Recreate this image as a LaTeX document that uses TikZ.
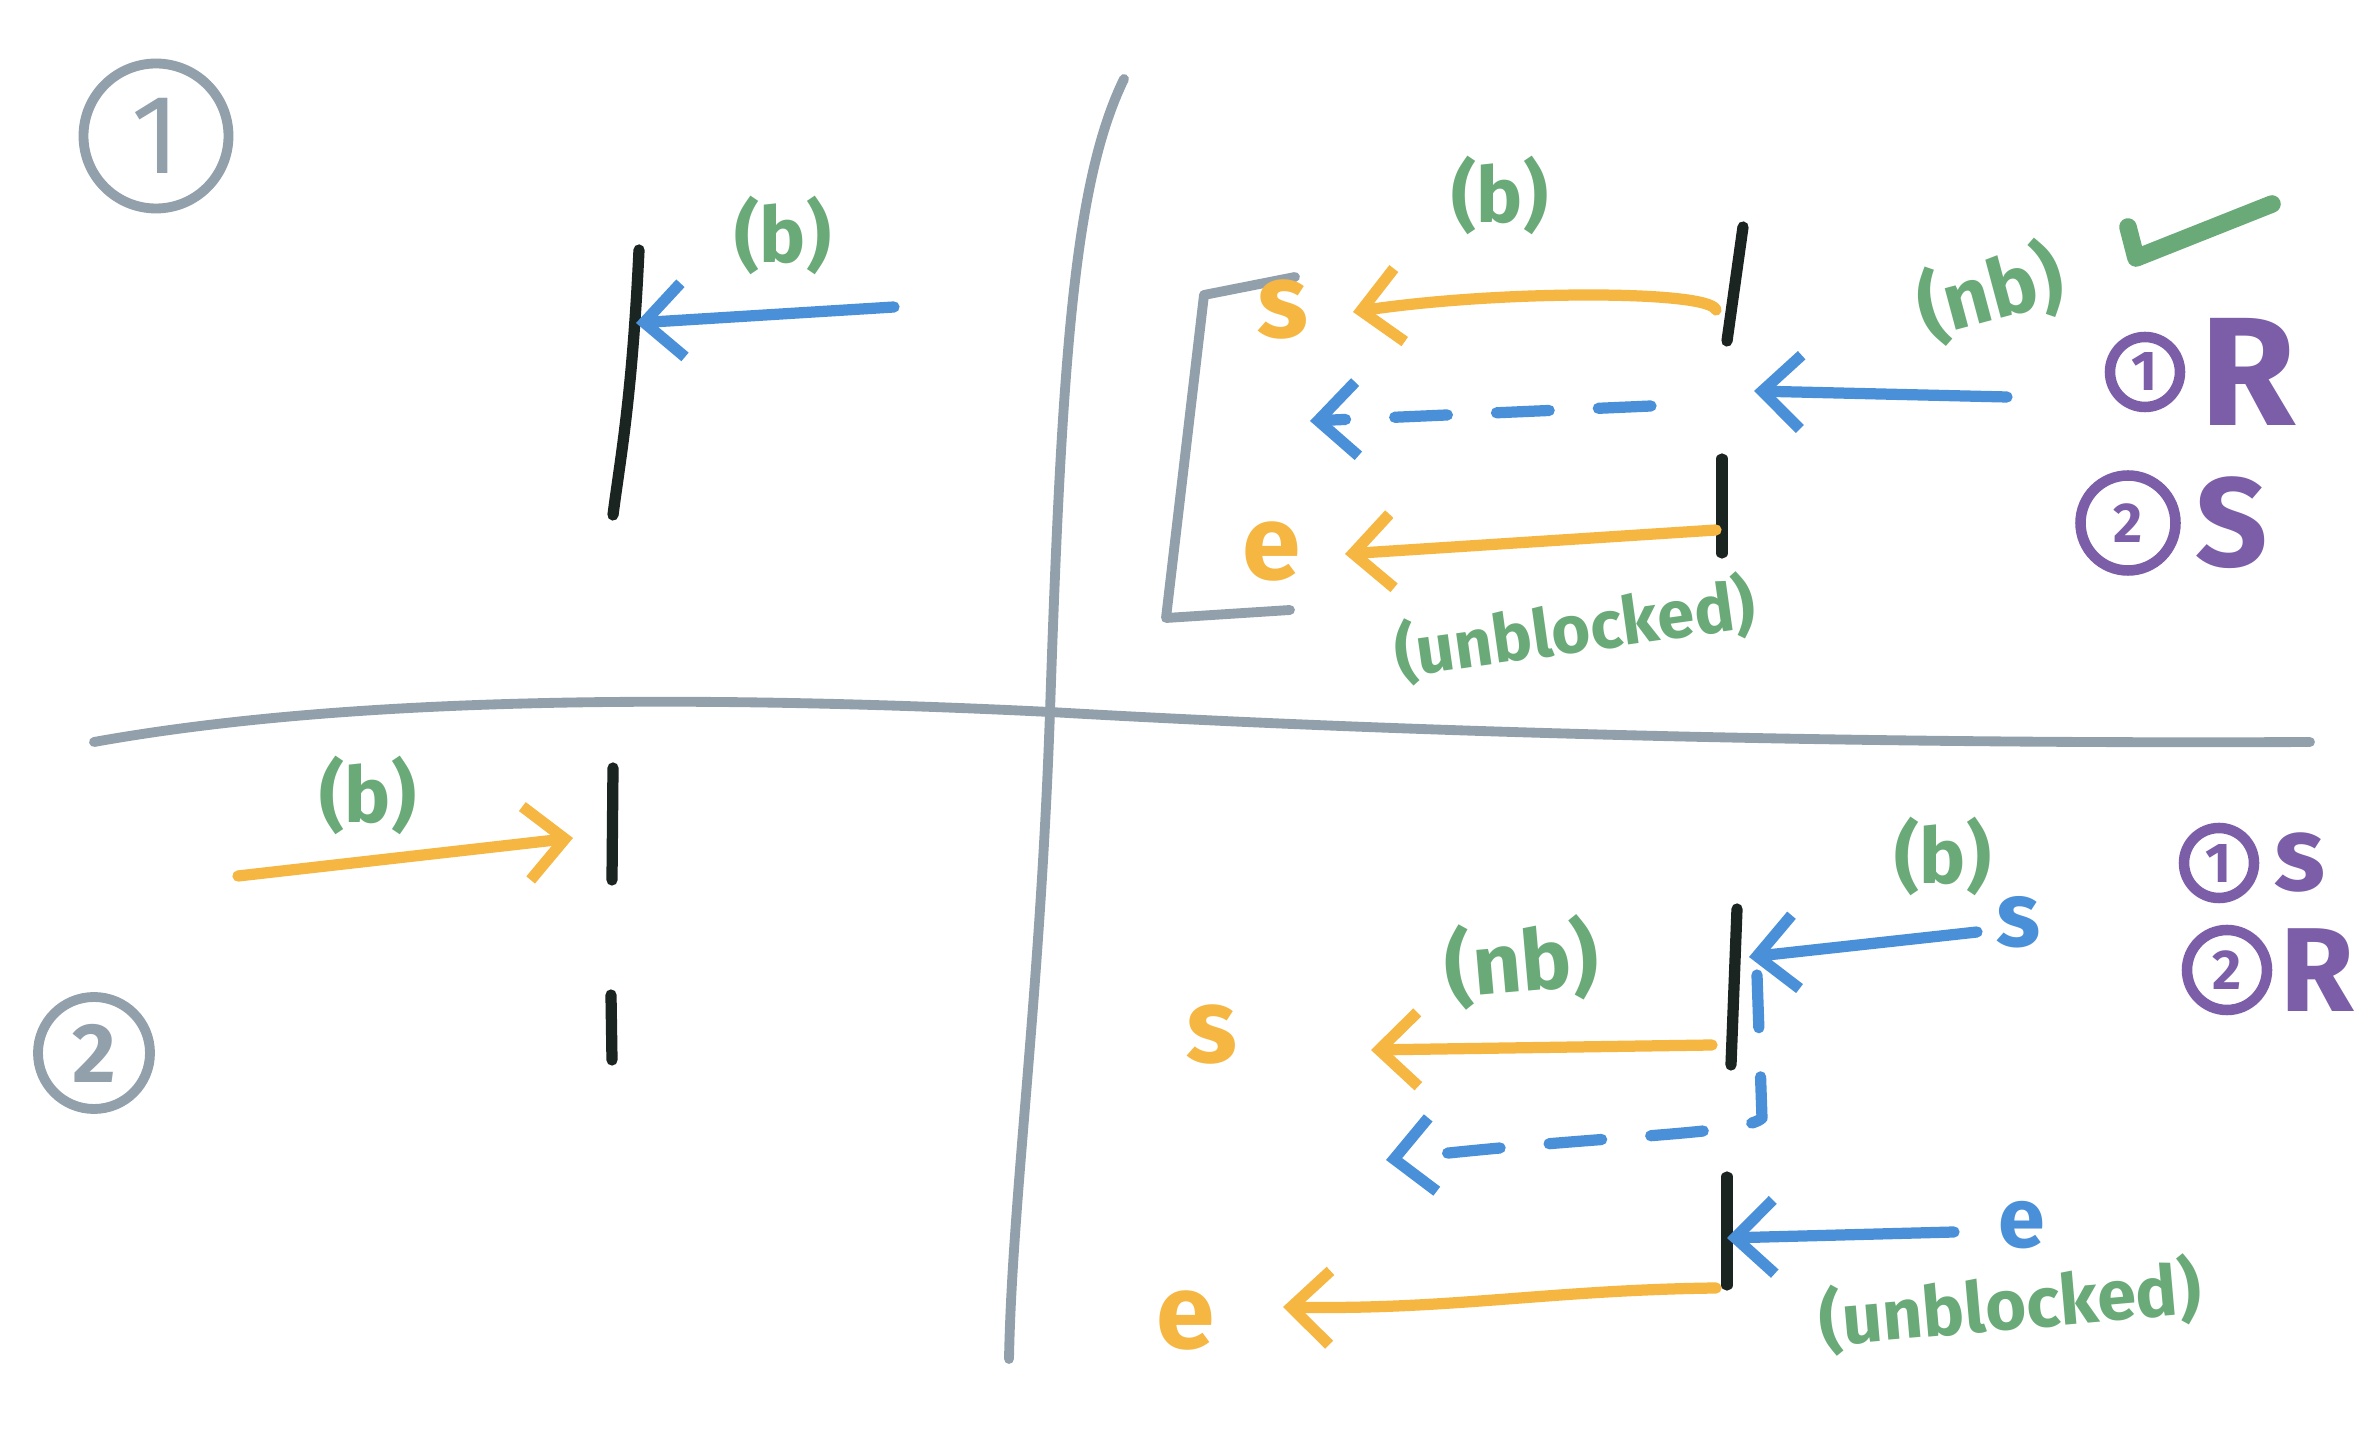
\documentclass[tikz,border=0pt]{standalone}
\usepackage{fontspec}
\setmainfont{Fira Sans}
\usetikzlibrary{arrows.meta,positioning}
\definecolor{penGrey}{RGB}{146,160,172}
\definecolor{penBlack}{RGB}{26,36,32}
\definecolor{penBlue}{RGB}{74,144,217}
\definecolor{penOrange}{RGB}{245,182,66}
\definecolor{penGreen}{RGB}{106,170,120}
\definecolor{penPurple}{RGB}{123,94,167}
\tikzset{
  pen/.style={line width=3.2pt, line cap=round, line join=round},
  divider/.style={pen, draw=penGrey, line width=2.8pt},
  wall/.style={pen, draw=penBlack},
  msg/.style={pen, -{Straight Barb[length=11pt,width=21pt]}},
  gap/.style={dash pattern=on 15pt off 14pt},
  note/.style={text=penGreen, font=\fontsize{#1}{#1}\selectfont\bfseries, inner sep=1pt},
  note/.default=22,
  letter/.style={font=\fontsize{#1}{#1}\selectfont\bfseries, inner sep=1pt},
  letter/.default=30,
  ringnum/.style={draw=penPurple, circle, line width=3pt, text=penPurple, inner sep=1pt, font=\fontsize{16}{16}\selectfont\bfseries},
  bigletter/.style={text=penPurple, inner sep=0pt, font=\fontsize{#1}{#1}\selectfont\bfseries}
}
\begin{document}
\begin{tikzpicture}[x=0.1mm, y=-0.1mm]
  \useasboundingbox (0,0) rectangle (2375,1434);
  \fill[white] (0,0) rectangle (2375,1434);
  \draw[divider] (1124,79) .. controls (1075,180) and (1062,350) .. (1050,712)
    .. controls (1040,1000) and (1012,1200) .. (1009,1359);
  \draw[divider] (94,742) .. controls (300,705) and (600,690) .. (1050,712)
    .. controls (1450,735) and (1900,744) .. (2310,742);
  \node[draw=penGrey, circle, line width=2.8pt, minimum size=1.45cm, text=penGrey,
    font=\fontsize{32}{32}\selectfont] (caseA) at (156,136) {1};
  \node[draw=penGrey, circle, line width=2.8pt, minimum size=1.12cm, text=penGrey,
    font=\fontsize{24}{24}\selectfont\bfseries] (caseB) at (94,1053) {2};
  % case 1, left
  \draw[wall] (639,250) .. controls (632,400) and (620,460) .. (613,515);
  \coordinate (aFrom) at (894,307);
  \coordinate (aTo) at (636,323);
  \draw[msg, penBlue] (aFrom) -- (aTo);
  \node[note] (aTag) at (783,235) {(b)};
  % case 1, right
  \draw[wall] (1743,227) -- (1727,341);
  \draw[wall] (1722,459) -- (1722,553);
  \draw[divider] (1295,277) -- (1204,295) -- (1166,618) -- (1290,610);
  \coordinate (sFrom) at (1716,310);
  \coordinate (sTo) at (1353,312);
  \draw[msg, penOrange] (sFrom) .. controls (1710,290) and (1500,290) .. (sTo);
  \node[letter, text=penOrange] (sOut) at (1283,310) {s};
  \coordinate (rFrom) at (2007,397);
  \coordinate (rTo) at (1754,391);
  \draw[msg, penBlue] (rFrom) -- (rTo);
  \coordinate (rOn) at (1651,406);
  \coordinate (rEnd) at (1310,421);
  \draw[msg, penBlue, gap] (rOn) -- (rEnd);
  \coordinate (eFrom) at (1716,530);
  \coordinate (eTo) at (1345,554);
  \draw[msg, penOrange] (eFrom) -- (eTo);
  \node[letter, text=penOrange] (eOut) at (1272,552) {e};
  \node[note] (bTag) at (1500,195) {(b)};
  \node[note=23, rotate=15] (nbTag) at (1990,292) {(nb)};
  \node[note=19, rotate=8] (freeTag) at (1575,629) {(unblocked)};
  \draw[pen, penGreen, line width=5pt] (2128,227) -- (2136,258) -- (2272,204);
  \node[ringnum, minimum size=0.7cm] (oneR) at (2145,372) {1};
  \node[bigletter=44, right=4pt of oneR] (oneRL) {R};
  \node[ringnum, minimum size=0.95cm] (twoS) at (2128,523) {2};
  \node[bigletter=36, right=4pt of twoS] (twoSL) {S};
  % case 2, left
  \draw[wall] (613,768) -- (612,880);
  \draw[wall] (611,995) -- (612,1060);
  \coordinate (cFrom) at (238,876);
  \coordinate (cTo) at (573,838);
  \draw[msg, penOrange] (cFrom) -- (cTo);
  \node[note] (cTag) at (368,795) {(b)};
  % case 2, right
  \draw[wall] (1737,909) -- (1731,1065);
  \draw[wall] (1727,1177) -- (1727,1285);
  \node[letter=26, text=penBlue] (sIn) at (2019,922) {s};
  \coordinate (dFrom) at (1977,932);
  \coordinate (dTo) at (1749,957);
  \draw[msg, penBlue] (dFrom) -- (dTo);
  \node[note] (dTag) at (1943,856) {(b)};
  \node[letter=24, text=penBlue] (eIn) at (2022,1225) {e};
  \coordinate (fFrom) at (1954,1232);
  \coordinate (fTo) at (1727,1238);
  \draw[msg, penBlue] (fFrom) -- (fTo);
  \coordinate (gFrom) at (1712,1045);
  \coordinate (gTo) at (1371,1050);
  \draw[msg, penOrange] (gFrom) -- (gTo);
  \node[letter, text=penOrange] (sLate) at (1212,1035) {s};
  \node[note=24, rotate=5] (nbLate) at (1522,962) {(nb)};
  \coordinate (hOn) at (1757,975);
  \coordinate (hEnd) at (1386,1160);
  \draw[msg, penBlue, gap] (hOn) -- (1762,1118) .. controls (1745,1135) and (1600,1135) .. (hEnd);
  \coordinate (kFrom) at (1716,1288);
  \coordinate (kTo) at (1283,1307);
  \draw[msg, penOrange] (kFrom) .. controls (1550,1290) and (1450,1310) .. (kTo);
  \node[letter, text=penOrange] (eLate) at (1186,1321) {e};
  \node[note=20, rotate=5] (freeLate) at (2010,1305) {(unblocked)};
  \node[ringnum, minimum size=0.7cm] (oneS) at (2219,863) {1};
  \node[bigletter=30, right=4pt of oneS] (oneSL) {s};
  \node[ringnum, minimum size=0.8cm] (twoR) at (2227,970) {2};
  \node[bigletter=34, right=2pt of twoR] (twoRL) {R};
\end{tikzpicture}
\end{document}
